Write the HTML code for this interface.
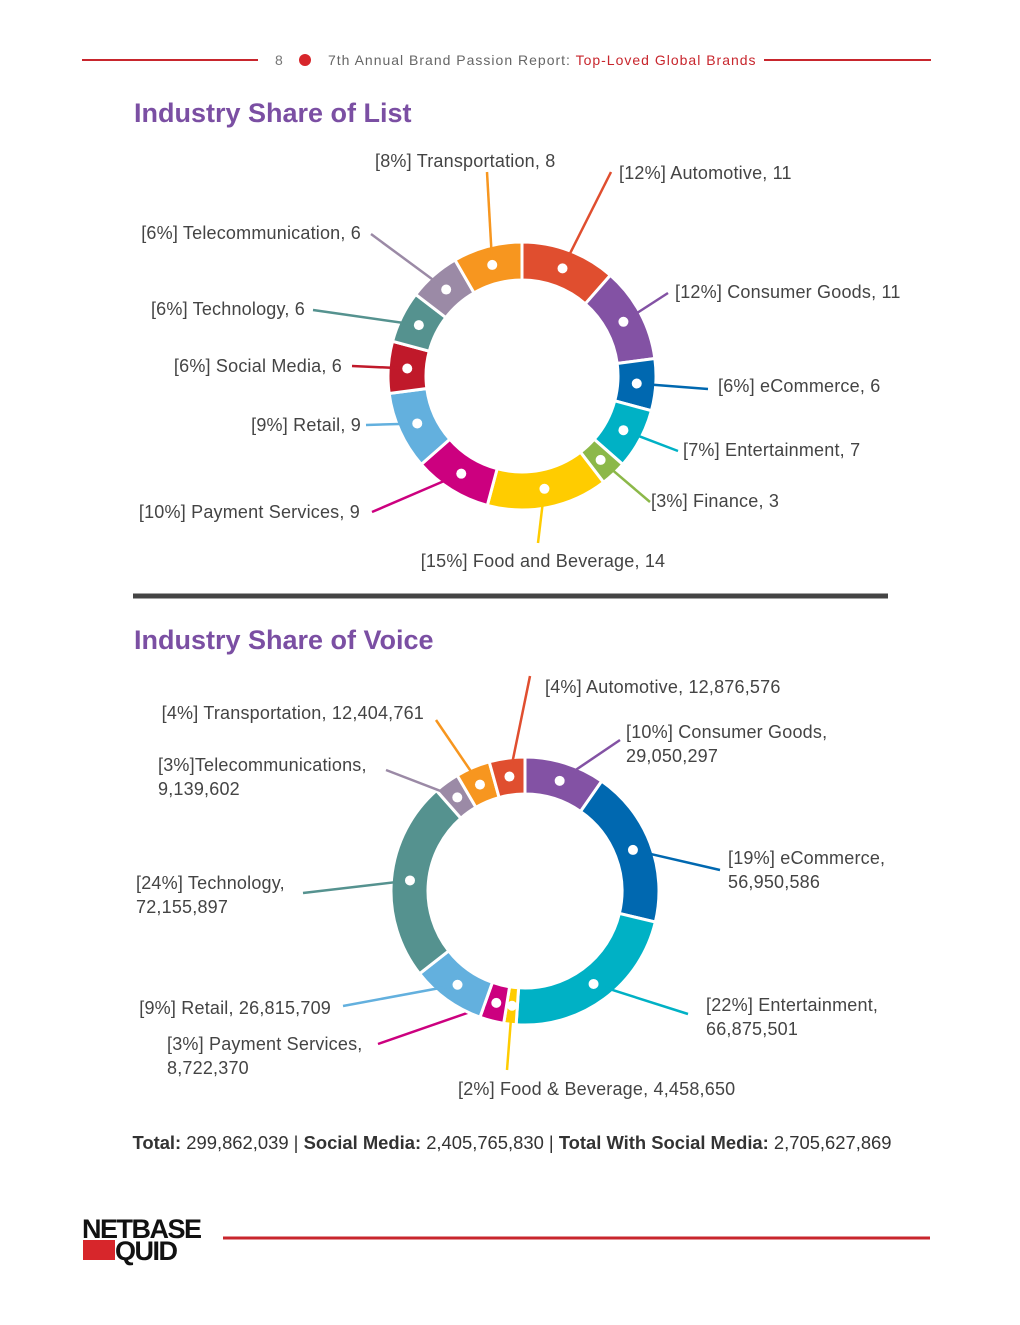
<!DOCTYPE html>
<html><head><meta charset="utf-8"><style>
body{margin:0;background:#fff;}
svg text{font-family:"Liberation Sans",sans-serif;}
</style></head><body>
<svg width="1020" height="1320" viewBox="0 0 1020 1320" xmlns="http://www.w3.org/2000/svg">
<g>
<line x1="82" y1="60" x2="258" y2="60" stroke="#c8262d" stroke-width="2"/>
<line x1="764" y1="60" x2="931" y2="60" stroke="#c8262d" stroke-width="2"/>
<text x="275" y="65" font-size="14" fill="#777">8</text>
<circle cx="305" cy="60" r="6" fill="#d7262b"/>
<text x="328" y="65" font-size="14" fill="#666" letter-spacing="1">7th Annual Brand Passion Report: <tspan fill="#c8262d">Top-Loved Global Brands</tspan></text>
</g>
<text x="134" y="122" font-size="27" font-weight="bold" fill="#7b4fa3">Industry Share of List</text>
<g id="c1"></g>
<line x1="133" y1="596" x2="888" y2="596" stroke="#444" stroke-width="5"/>
<text x="134" y="649" font-size="27" font-weight="bold" fill="#7b4fa3">Industry Share of Voice</text>
<g id="c2"></g>
<text x="512" y="1149" font-size="18.4" fill="#333" text-anchor="middle"><tspan font-weight="bold">Total:</tspan> 299,862,039 | <tspan font-weight="bold">Social Media:</tspan> 2,405,765,830 | <tspan font-weight="bold">Total With Social Media:</tspan> 2,705,627,869</text>
<g>
<text x="82" y="1238" font-size="27" font-weight="bold" fill="#111" letter-spacing="-1.5">NETBASE</text>
<rect x="83" y="1240" width="32" height="20" fill="#d7262b"/>
<text x="115" y="1260" font-size="27" font-weight="bold" fill="#111" letter-spacing="-1.5">QUID</text>
</g>
<line x1="223" y1="1238" x2="930" y2="1238" stroke="#c8262d" stroke-width="3"/>
</svg>
<script>
const ns="http://www.w3.org/2000/svg";
const listCategories=["Automotive","Consumer Goods","eCommerce","Entertainment","Finance","Food and Beverage","Payment Services","Retail","Social Media","Technology","Telecommunication","Transportation"];
const listValues=[11,11,6,7,3,14,9,9,6,6,6,8];
const listLabels=[["[12%] Automotive, 11"],["[12%] Consumer Goods, 11"],["[6%] eCommerce, 6"],["[7%] Entertainment, 7"],["[3%] Finance, 3"],["[15%] Food and Beverage, 14"],["[10%] Payment Services, 9"],["[9%] Retail, 9"],["[6%] Social Media, 6"],["[6%] Technology, 6"],["[6%] Telecommunication, 6"],["[8%] Transportation, 8"]];
const listColors=["#e04e2f","#8352a4","#0068b0","#00b1c5","#8cb849","#ffcc00","#cc007f","#63b0de","#c0192a","#55928f","#9b8aa6","#f7961f"];
const voiceCategories=["Consumer Goods","eCommerce","Entertainment","Food & Beverage","Payment Services","Retail","Technology","Telecommunications","Transportation","Automotive"];
const voiceValues=[29050297,56950586,66875501,4458650,8722370,26815709,72155897,9139602,12404761,12876576];
const voiceLabels=[["[10%] Consumer Goods,","29,050,297"],["[19%] eCommerce,","56,950,586"],["[22%] Entertainment,","66,875,501"],["[2%] Food & Beverage, 4,458,650"],["[3%] Payment Services,","8,722,370"],["[9%] Retail, 26,815,709"],["[24%] Technology,","72,155,897"],["[3%]Telecommunications,","9,139,602"],["[4%] Transportation, 12,404,761"],["[4%] Automotive, 12,876,576"]];
const voiceColors=["#8352a4","#0068b0","#00b1c5","#ffcc00","#cc007f","#63b0de","#55928f","#9b8aa6","#f7961f","#e04e2f"];
// label layout: [leader end x, y, text x, text y, anchor]
const listLayout=[[611,172,619,179,"start"],[668,293,675,298,"start"],[708,389,718,392,"start"],[678,451,683,456,"start"],[650,502,651,507,"start"],[538,543,543,567,"middle"],[372,512,360,518,"end"],[366,425,361,431,"end"],[352,366,342,372,"end"],[313,310,305,315,"end"],[371,234,361,239,"end"],[487,172,375,167,"start"]];
const voiceLayout=[[620,740,626,738,"start"],[720,870,728,864,"start"],[688,1014,706,1011,"start"],[507,1070,458,1095,"start"],[378,1044,167,1050,"start"],[343,1006,331,1014,"end"],[303,893,136,889,"start"],[386,770,158,771,"start"],[436,720,424,719,"end"],[530,676,545,693,"start"]];
function pt(cx,cy,r,a){return [cx+r*Math.sin(a),cy-r*Math.cos(a)];}
function mk(tag,attrs,parent){const e=document.createElementNS(ns,tag);for(const k in attrs)e.setAttribute(k,attrs[k]);parent.appendChild(e);return e;}
function donut(gid,vals,cols,labels,layout,cx,cy,R,r,prefix){
  const g=document.getElementById(gid);const tot=vals.reduce((a,b)=>a+b,0);let a0=0;
  vals.forEach((v,i)=>{
    const a1=a0+v/tot*2*Math.PI;
    const p1=pt(cx,cy,R,a0),p2=pt(cx,cy,R,a1),p3=pt(cx,cy,r,a1),p4=pt(cx,cy,r,a0);
    const lg=(a1-a0)>Math.PI?1:0;
    const p=mk("path",{d:`M${p1}A${R},${R} 0 ${lg} 1 ${p2}L${p3}A${r},${r} 0 ${lg} 0 ${p4}Z`,fill:cols[i],stroke:"#fff","stroke-width":3},g);
    
    
    const m=pt(cx,cy,(R+r)/2,(a0+a1)/2);const L=layout[i];
    const ln=mk("line",{x1:m[0],y1:m[1],x2:L[0],y2:L[1],stroke:cols[i],"stroke-width":2.5},g);
    
    
    const d=mk("circle",{cx:m[0],cy:m[1],r:5,fill:"#fff"},g);
    
    
    const t=mk("text",{x:L[2],y:L[3],"font-size":18,fill:"#444","text-anchor":L[4],"letter-spacing":0.2},g);
    
    
    labels[i].forEach((s,j)=>{const ts=mk("tspan",{x:L[2],dy:j?24:0},t);ts.textContent=s;});
    a0=a1;
  });
}
donut("c1",listValues,listColors,listLabels,listLayout,522,376,134,96,"list");
donut("c2",voiceValues,voiceColors,voiceLabels,voiceLayout,525,891,134,97,"voice");
</script>
</body></html>
